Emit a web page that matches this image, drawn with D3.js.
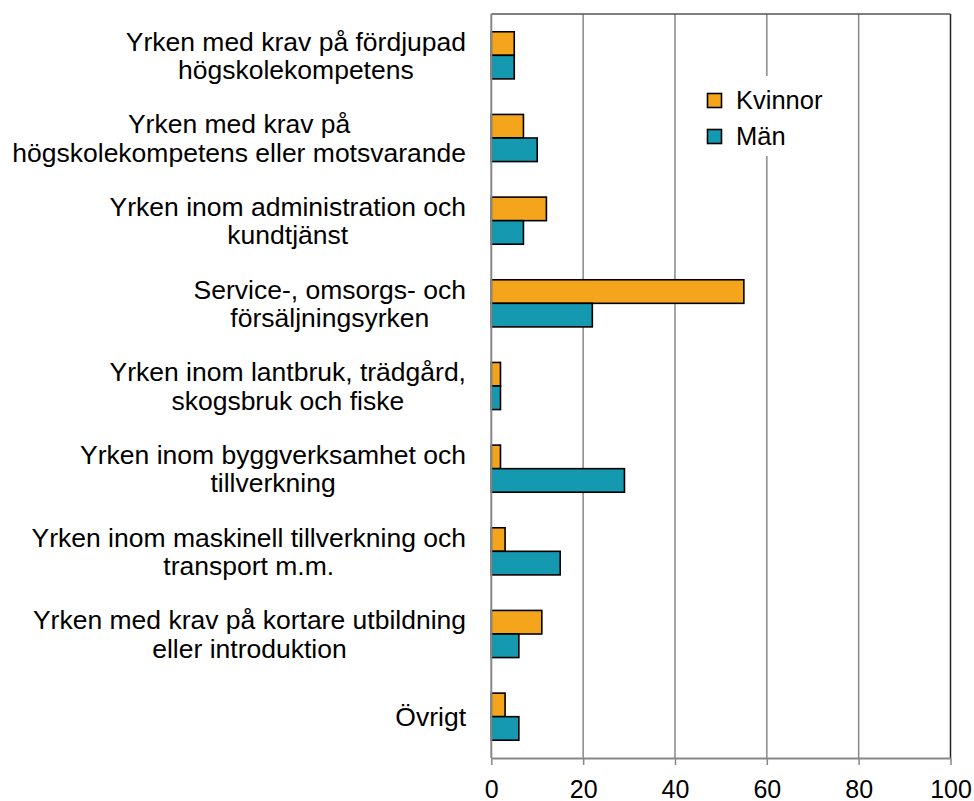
<!DOCTYPE html>
<html><head><meta charset="utf-8">
<script src="https://cdn.jsdelivr.net/npm/d3@7"></script>
<style>body{margin:0;background:#fff}svg{display:block;font-family:"Liberation Sans",Arial,sans-serif}</style>
</head><body><svg id="c" width="974" height="801"></svg>
<script>
const categories = [
  ["Yrken med krav på fördjupad","högskolekompetens"],
  ["Yrken med krav på","högskolekompetens eller motsvarande"],
  ["Yrken inom administration och","kundtjänst"],
  ["Service-, omsorgs- och","försäljningsyrken"],
  ["Yrken inom lantbruk, trädgård,","skogsbruk och fiske"],
  ["Yrken inom byggverksamhet och","tillverkning"],
  ["Yrken inom maskinell tillverkning och","transport m.m."],
  ["Yrken med krav på kortare utbildning","eller introduktion"],
  ["Övrigt"]
];
const seriesNames = ["Kvinnor","Män"];
const kvinnor = [5,7,12,55,2,2,3,11,3];
const man = [5,10,7,22,2,29,15,6,6];
const xTicks = [0,20,40,60,80,100];
const colors = ["#F5A51B","#1499B1"];

const svg = d3.select("#c");
const m = {l:491.3, r:950.5, t:14, b:758};
const x = d3.scaleLinear().domain([0,100]).range([m.l,m.r]);
const y = d3.scaleBand().domain(d3.range(categories.length)).range([m.t,m.b]).paddingInner(0.43).paddingOuter(0.215);
const y2 = d3.scaleBand().domain([0,1]).range([0,y.bandwidth()]);

// gridlines
svg.append("g").selectAll("line").data(xTicks.slice(1)).join("line")
  .attr("x1",d=>x(d)).attr("x2",d=>x(d)).attr("y1",m.t).attr("y2",m.b)
  .attr("stroke",d=>d===100?"#222":"#888").attr("stroke-width",1.5);
// top border
svg.append("line").attr("x1",m.l).attr("x2",m.r).attr("y1",m.t).attr("y2",m.t).attr("stroke","#555").attr("stroke-width",1.5);

// bars
const data = [kvinnor, man];
data.forEach((vals,si)=>{
  svg.append("g").selectAll("rect").data(vals).join("rect")
    .attr("x",x(0)).attr("y",(d,i)=>y(i)+y2(si))
    .attr("width",d=>x(d)-x(0)).attr("height",y2.bandwidth())
    .attr("fill",colors[si]).attr("stroke","#000").attr("stroke-width",1.6);
});

// axes
const xAxis = svg.append("g").attr("transform",`translate(0,${m.b})`)
  .call(d3.axisBottom(x).tickValues(xTicks).tickSize(7).tickPadding(8).tickSizeOuter(0));
xAxis.select(".domain").attr("stroke","#888").attr("stroke-width",2);
xAxis.selectAll(".tick line").attr("stroke","#888").attr("stroke-width",1.5);
xAxis.selectAll(".tick text").attr("font-size",25).attr("fill","#000").attr("dy",null).attr("y",39.5)
  .attr("font-family","Liberation Sans, Arial, sans-serif");
svg.append("line").attr("x1",m.l).attr("x2",m.l).attr("y1",m.t).attr("y2",m.b).attr("stroke","#888").attr("stroke-width",2);

// category labels: lines centered within each block, block right-aligned
const lab = svg.append("g");
categories.forEach((lines,i)=>{
  const cy = y(i)+y.bandwidth()/2;
  const n = lines.length;
  const g = lab.append("g");
  const texts = lines.map((s,j)=> g.append("text").attr("text-anchor","middle").attr("font-size",26.5).attr("fill","#000")
      .attr("y",cy+(j-(n-1)/2)*28.4+9.5).text(s));
  const widths = texts.map(t=>t.node().getComputedTextLength());
  const maxW = Math.max(...widths);
  texts.forEach(t=>t.attr("x",466-maxW/2));
});

// legend
const lg = svg.append("g");
lg.append("rect").attr("x",700).attr("y",76).attr("width",140).attr("height",80).attr("fill","#fff");
seriesNames.forEach((s,i)=>{
  const cy = 100.5+i*36;
  lg.append("rect").attr("x",707.5).attr("y",cy-7).attr("width",14).attr("height",14)
    .attr("fill",colors[i]).attr("stroke","#000").attr("stroke-width",1.6);
  lg.append("text").attr("x",736).attr("y",cy+8.5).attr("font-size",25.5).attr("fill","#000").text(s);
});
</script></body></html>
